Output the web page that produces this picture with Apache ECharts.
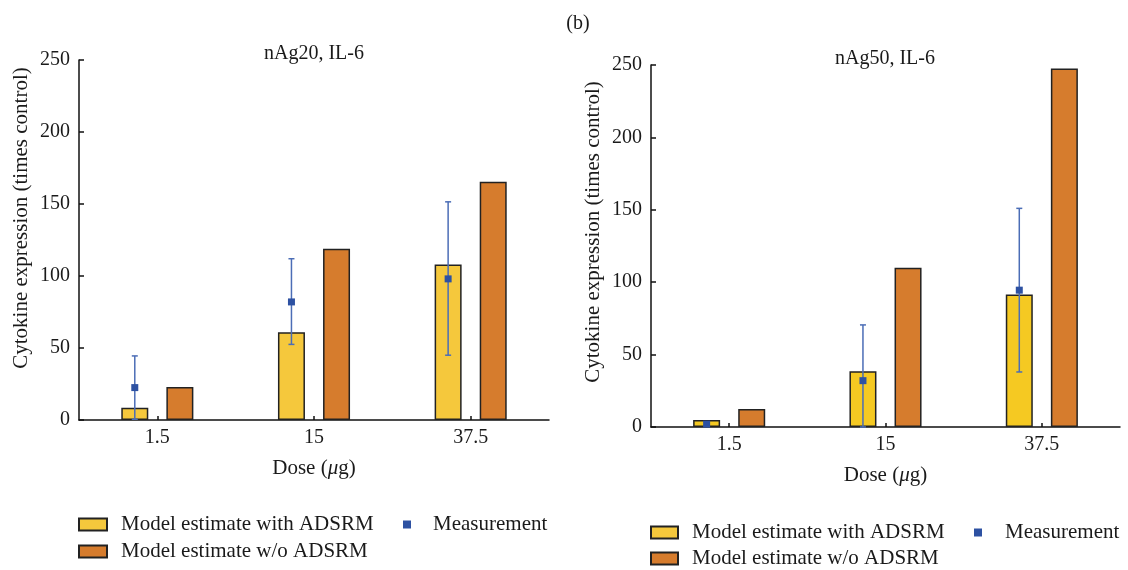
<!DOCTYPE html>
<html>
<head>
<meta charset="utf-8">
<script src="https://cdn.jsdelivr.net/npm/echarts@6/dist/echarts.min.js"></script>
<style>
html,body{margin:0;padding:0;background:#fff;}
#chart{width:1128px;height:570px;}
</style>
</head>
<body>
<div id="chart"></div>
<script>
// ---- data ----
const categories = ['1.5', '15', '37.5'];
const seriesNames = ['Model estimate with ADSRM', 'Model estimate w/o ADSRM', 'Measurement'];

// nAg20, IL-6
const nAg20_withADSRM = [8.5, 61, 108];
const nAg20_withoutADSRM = [23, 119, 165.5];
const nAg20_measurement = [22.5, 82, 98];
const nAg20_measLow = [0.5, 52.5, 45];
const nAg20_measHigh = [44.5, 112, 151.5];

// nAg50, IL-6
const nAg50_withADSRM = [4.8, 38.5, 91.5];
const nAg50_withoutADSRM = [12.5, 110, 247.5];
const nAg50_measurement = [2, 32, 94.5];
const nAg50_measLow = [2, 0, 38];
const nAg50_measHigh = [2, 70.5, 151];

const yMin = 0, yMax = 250, yInterval = 50;

// ---- styles ----
const FONT = 'Liberation Serif';
const TXT = '#1a1a1a';
const FS = 21;
const FS_TICK = 20;
const BAR_WIDTH = 27;
const BAR_GAP_RATIO = 0.67;
const YELLOW_L = '#F5C83C';
const YELLOW_R = '#F5C922';
const ORANGE = '#D67C2D';
const BLUE = '#2D51A2';
const ERR_BLUE = '#4B6DB6';

const chart = echarts.init(document.getElementById('chart'), null, {renderer: 'canvas'});

function measData(v, lo, hi) {
  return v.map((d, i) => [i, d, lo[i], hi[i]]);
}

function renderErr(params, api) {
  const idx = api.value(0);
  const c = api.coord([idx, api.value(1)]);
  const lo = api.coord([idx, api.value(2)]);
  const hi = api.coord([idx, api.value(3)]);
  const off = -(BAR_WIDTH + BAR_WIDTH * BAR_GAP_RATIO) / 2;
  const x = c[0] + off;
  const cap = 3;
  const children = [];
  if (Math.abs(hi[1] - lo[1]) > 0.5) {
    const ls = {stroke: ERR_BLUE, lineWidth: 1.5};
    children.push({type: 'line', shape: {x1: x, y1: hi[1], x2: x, y2: lo[1]}, style: ls});
    children.push({type: 'line', shape: {x1: x - cap, y1: hi[1], x2: x + cap, y2: hi[1]}, style: ls});
    children.push({type: 'line', shape: {x1: x - cap, y1: lo[1], x2: x + cap, y2: lo[1]}, style: ls});
  }
  children.push({type: 'rect', shape: {x: x - 3.5, y: c[1] - 3.5, width: 7, height: 7}, style: {fill: BLUE}});
  return {type: 'group', children: children};
}

function xAxisCfg(gridIndex) {
  return {
    type: 'category', gridIndex: gridIndex, data: categories, boundaryGap: true,
    axisLine: {show: true, lineStyle: {color: '#111', width: 1.5}},
    axisTick: {show: true, alignWithLabel: true, inside: true, length: 4, lineStyle: {color: '#111', width: 1.5}},
    axisLabel: {fontFamily: FONT, fontSize: FS_TICK, color: TXT, margin: 8},
    splitLine: {show: false},
    name: 'Dose ({i|μ}g)', nameLocation: 'middle', nameGap: 38,
    nameTextStyle: {fontFamily: FONT, fontSize: FS, color: TXT,
      rich: {i: {fontFamily: FONT, fontSize: FS, color: TXT, fontStyle: 'italic'}}}
  };
}

function yAxisCfg(gridIndex, padUp) {
  return {
    type: 'value', gridIndex: gridIndex, min: yMin, max: yMax, interval: yInterval,
    axisLine: {show: true, lineStyle: {color: '#111', width: 1.5}},
    axisTick: {show: true, inside: true, length: 5, lineStyle: {color: '#111', width: 1.5}},
    axisLabel: {fontFamily: FONT, fontSize: FS_TICK, color: TXT, margin: 9},
    splitLine: {show: false},
    name: 'Cytokine expression (times control)', nameLocation: 'middle', nameGap: 47,
    nameTextStyle: {fontFamily: FONT, fontSize: FS, color: TXT, padding: [0, 0, 0, padUp]}
  };
}

function barSeries(name, data, color, idx) {
  return {
    name: name, type: 'bar', xAxisIndex: idx, yAxisIndex: idx, data: data,
    barWidth: BAR_WIDTH, barGap: (BAR_GAP_RATIO * 100) + '%',
    itemStyle: {color: color, borderColor: '#222', borderWidth: 1.5},
    emphasis: {disabled: true}
  };
}

function measSeries(data, idx) {
  return {
    name: seriesNames[2], type: 'custom', xAxisIndex: idx, yAxisIndex: idx,
    data: data, renderItem: renderErr, z: 5,
    itemStyle: {color: BLUE}
  };
}

const legendText = {fontFamily: FONT, fontSize: FS, color: TXT, padding: [0, 0, 0, 9]};

const option = {
  animation: false,
  backgroundColor: '#fff',
  title: [
    {text: '(b)', left: 578, top: 14, textAlign: 'center', padding: 0,
      textStyle: {fontFamily: FONT, fontSize: 20, fontWeight: 'normal', color: TXT}},
    {text: 'nAg20, IL-6', left: 314, top: 44, textAlign: 'center', padding: 0,
      textStyle: {fontFamily: FONT, fontSize: FS - 1, fontWeight: 'normal', color: TXT}},
    {text: 'nAg50, IL-6', left: 885, top: 49, textAlign: 'center', padding: 0,
      textStyle: {fontFamily: FONT, fontSize: FS - 1, fontWeight: 'normal', color: TXT}}
  ],
  grid: [
    {left: 79, top: 60, width: 470, height: 360, containLabel: false},
    {left: 651, top: 65, width: 469, height: 362, containLabel: false}
  ],
  xAxis: [xAxisCfg(0), xAxisCfg(1)],
  yAxis: [yAxisCfg(0, 44), yAxisCfg(1, 28)],
  legend: [
    {data: [seriesNames[0], seriesNames[1]], orient: 'vertical', left: 78, top: 514, height: 60, padding: 0,
      itemWidth: 28, itemHeight: 12, itemGap: 6, icon: 'rect', textStyle: legendText, selectedMode: false},
    {data: [seriesNames[2]], left: 403, top: 514, padding: 0,
      itemWidth: 8, itemHeight: 8, icon: 'rect', textStyle: Object.assign({}, legendText, {padding: [0, 0, 0, 17]}), selectedMode: false},
    {data: [seriesNames[0], seriesNames[1]], orient: 'vertical', left: 650, top: 522, height: 60, padding: 0,
      itemWidth: 27, itemHeight: 12, itemGap: 5, icon: 'rect', textStyle: legendText, selectedMode: false},
    {data: [seriesNames[2]], left: 974, top: 522, padding: 0,
      itemWidth: 8, itemHeight: 8, icon: 'rect', textStyle: Object.assign({}, legendText, {padding: [0, 0, 0, 18]}), selectedMode: false}
  ],
  series: [
    barSeries(seriesNames[0], nAg20_withADSRM, YELLOW_L, 0),
    barSeries(seriesNames[1], nAg20_withoutADSRM, ORANGE, 0),
    measSeries(measData(nAg20_measurement, nAg20_measLow, nAg20_measHigh), 0),
    barSeries(seriesNames[0], nAg50_withADSRM, YELLOW_R, 1),
    barSeries(seriesNames[1], nAg50_withoutADSRM, ORANGE, 1),
    measSeries(measData(nAg50_measurement, nAg50_measLow, nAg50_measHigh), 1)
  ]
};
chart.setOption(option);
</script>
</body>
</html>
